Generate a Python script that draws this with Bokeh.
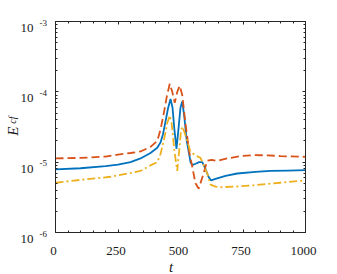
import math
from bokeh.plotting import figure
from bokeh.models import (FixedTicker, LinearAxis, LogAxis, Range1d,
                          CustomJSTickFormatter)
from bokeh.core.properties import value
from bokeh.embed import file_html
from bokeh.resources import INLINE

# ---- data ----
t_blue = [0, 100, 200, 250, 300, 340, 380, 407, 420, 430, 440, 450, 460, 468, 476,
          484, 492, 500, 507, 515, 525, 533, 540, 547, 560, 575, 587, 600, 612, 622,
          640, 680, 727, 800, 860, 930, 1000]
e_blue = [7.9e-6, 8.2e-6, 8.8e-6, 9.2e-6, 1.0e-5, 1.13e-5, 1.35e-5, 1.6e-5, 1.9e-5,
          2.5e-5, 3.8e-5, 5.8e-5, 7.9e-5, 6.0e-5, 2.8e-5, 1.55e-5, 3.0e-5, 6.0e-5,
          7.3e-5, 4.5e-5, 2.0e-5, 1.4e-5, 1.0e-5, 9.1e-6, 9.5e-6, 1.0e-5, 1.0e-5,
          8.0e-6, 6.2e-6, 5.5e-6, 5.8e-6, 6.4e-6, 6.9e-6, 7.3e-6, 7.5e-6, 7.6e-6, 7.7e-6]

t_orange = [0, 100, 200, 250, 300, 340, 380, 407, 420, 433, 445, 457, 467, 477, 487,
            497, 507, 520, 535, 547, 560, 573, 590, 607, 625, 647, 687, 740, 793, 850,
            900, 1000]
e_orange = [1.13e-5, 1.15e-5, 1.2e-5, 1.28e-5, 1.35e-5, 1.42e-5, 1.65e-5, 2.0e-5,
            2.9e-5, 4.9e-5, 8.5e-5, 1.3e-4, 1.0e-4, 7.0e-5, 1.0e-4, 1.22e-4, 9.0e-5,
            3.5e-5, 1.4e-5, 8.6e-6, 5.0e-6, 4.2e-6, 6.5e-6, 1.05e-5, 1.08e-5, 1.04e-5,
            1.13e-5, 1.22e-5, 1.26e-5, 1.25e-5, 1.22e-5, 1.19e-5]

t_yellow = [0, 100, 220, 300, 340, 380, 407, 420, 433, 447, 457, 465, 475, 487, 495,
            502, 507, 517, 527, 540, 560, 580, 593, 607, 620, 640, 660, 720, 793, 900,
            1000]
e_yellow = [5.1e-6, 5.6e-6, 6.2e-6, 7.0e-6, 7.5e-6, 9.0e-6, 1.0e-5, 1.3e-5, 2.0e-5,
            3.6e-5, 4.6e-5, 3.5e-5, 1.5e-5, 7.5e-6, 1.5e-5, 2.8e-5, 3.2e-5, 2.6e-5,
            2.0e-5, 1.4e-5, 1.25e-5, 1.15e-5, 9.0e-6, 6.9e-6, 4.8e-6, 4.5e-6, 4.4e-6,
            4.5e-6, 4.7e-6, 5.1e-6, 5.5e-6]

x_ticks = [0, 250, 500, 750, 1000]
x_tick_labels = ["0", "250", "500", "750", "1000"]
y_ticks = [1e-6, 1e-5, 1e-4, 1e-3]
y_tick_base = ["10", "10", "10", "10"]
y_tick_exp = ["-6", "-5", "-4", "-3"]
x_label = "t"
y_label_main = "E"
y_label_sub = "cf"

FONT = "Liberation Serif"
AX = "#262626"
TXT = "#1a1a1a"

p = figure(width=337, height=274, y_axis_type="log",
           x_range=Range1d(0, 1000), y_range=Range1d(1e-6, 1e-3),
           output_backend="svg", toolbar_location=None,
           min_border_left=55, min_border_right=32, min_border_top=21,
           min_border_bottom=42)
p.grid.visible = False
p.outline_line_color = None
p.background_fill_color = "white"
p.border_fill_color = "white"

x_minor = [v for v in range(0, 1001, 50)]
y_minor = [k * 10.0 ** e for e in range(-6, -3) for k in range(2, 10)]
xt = FixedTicker(ticks=x_ticks, minor_ticks=x_minor)
yt = FixedTicker(ticks=y_ticks, minor_ticks=y_minor)


def style(ax):
    ax.axis_line_color = AX
    ax.axis_line_width = 1
    ax.major_tick_line_color = AX
    ax.minor_tick_line_color = AX
    ax.major_tick_in = 3
    ax.major_tick_out = 0
    ax.minor_tick_in = 2
    ax.minor_tick_out = 0
    ax.formatter = CustomJSTickFormatter(code="return ''")
    ax.major_label_standoff = 0


p.xaxis.ticker = xt
p.yaxis.ticker = yt
style(p.xaxis[0])
style(p.yaxis[0])
top = LinearAxis(ticker=xt)
right = LogAxis(ticker=yt)
style(top)
style(right)
p.add_layout(top, "above")
p.add_layout(right, "right")

p.line(t_blue, e_blue, line_color="#0072BD", line_width=1.8)
p.line(t_orange, e_orange, line_color="#D95319", line_width=1.8, line_dash="8 4")
p.line(t_yellow, e_yellow, line_color="#EDB120", line_width=1.8, line_dash="8 3 2 3")

common = dict(text_font=value(FONT), text_color=TXT, level="overlay")

# x tick labels
p.text(x=x_ticks, y=[1e-6] * len(x_ticks), text=x_tick_labels,
       x_offset=-2, y_offset=18, text_align="center", text_baseline="alphabetic",
       text_font_size="13px", **common)
# y tick labels: base 10 and raised exponent
p.text(x=[0] * len(y_ticks), y=y_ticks, text=y_tick_base,
       x_offset=-22, y_offset=6.5, text_align="right", text_baseline="alphabetic",
       text_font_size="13px", **common)
p.text(x=[0] * len(y_ticks), y=y_ticks, text=y_tick_exp,
       x_offset=-16, y_offset=1, text_align="left", text_baseline="alphabetic",
       text_font_size="9px", **common)

# axis labels
p.text(x=[500], y=[1e-6], text=[x_label], x_offset=-9.5, y_offset=34,
       text_align="center", text_baseline="alphabetic", text_font_style="italic",
       text_font_size="15px", **common)
p.text(x=[0], y=[1e-5], text=[y_label_main], x_offset=-43, y_offset=-31,
       angle=math.pi / 2, text_align="center", text_baseline="alphabetic",
       text_font_style="italic", text_font_size="15px", **common)
p.text(x=[0], y=[1e-5], text=[y_label_sub], x_offset=-43, y_offset=-42,
       angle=math.pi / 2, text_align="center", text_baseline="alphabetic",
       text_font_style="italic", text_font_size="10px", **common)

open("out.html", "w").write(file_html(p, INLINE))
